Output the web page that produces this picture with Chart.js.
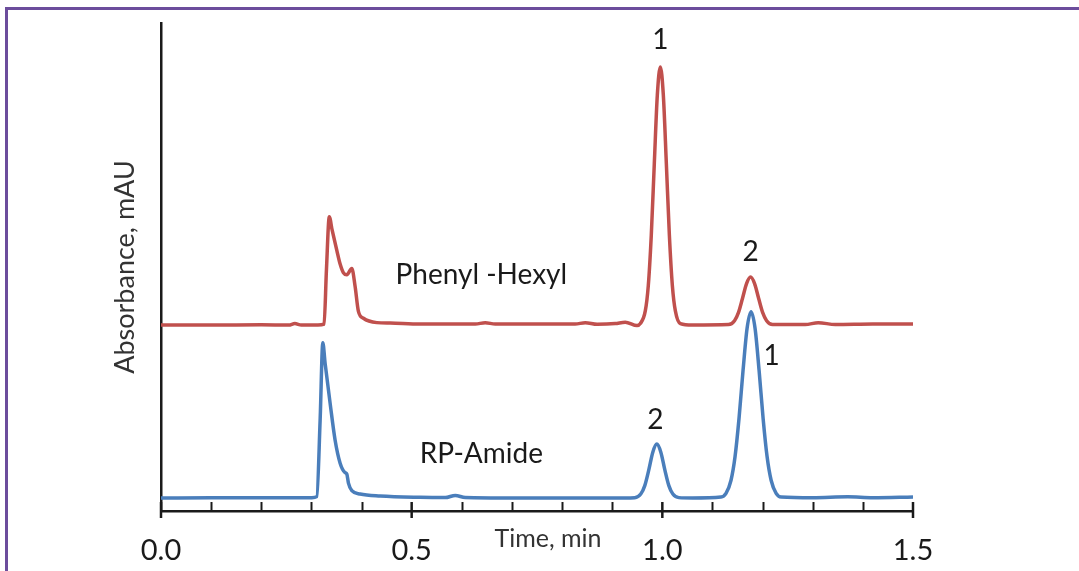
<!DOCTYPE html>
<html lang="en">
<head>
  <meta charset="UTF-8" />
  <title>Chromatogram - Phenyl-Hexyl vs RP-Amide</title>
  <script src="https://cdn.jsdelivr.net/npm/chart.js"></script>
  <style>
    html, body {
      margin: 0;
      padding: 0;
      background: #fff;
      overflow: hidden;
    }
    #wrap {
      position: relative;
      width: 1079px;
      height: 571px;
    }
    #frame {
      position: absolute;
      left: 5px;
      top: 7px;
      width: 1200px;
      height: 700px;
      border-top: 3px solid #6c4d9c;
      border-left: 3px solid #6c4d9c;
      pointer-events: none;
    }
  </style>
</head>
<body>
  <div id="wrap">
    <canvas id="chrom"></canvas>
    <div id="frame"></div>
  </div>

  <script>
    // Phenyl-Hexyl trace (time in min, absorbance in arbitrary mAU)
    const redTime = [0, 0.1, 0.2, 0.255, 0.267, 0.28, 0.313, 0.3253, 0.330, 0.3357, 0.3413, 0.3507,
      0.3573, 0.3639, 0.3706, 0.3806, 0.3872, 0.3938, 0.4038, 0.4305, 0.4571, 0.517, 0.627, 0.6467,
      0.6667, 0.826, 0.8463, 0.870, 0.906, 0.926, 0.9495, 0.956, 0.966, 0.972, 0.978, 0.984, 0.990,
      0.996, 1.002, 1.008, 1.014, 1.020, 1.026, 1.036, 1.06, 1.132, 1.144, 1.152, 1.160, 1.168,
      1.176, 1.184, 1.192, 1.200, 1.208, 1.220, 1.285, 1.311, 1.345, 1.42, 1.5];
    const redAbs = [38.1, 38.1, 38.15, 38.1, 38.4, 38.1, 38.1, 38.3, 49.4, 60.3, 57.6, 53.4,
      50.6, 48.8, 48.4, 49.7, 46.0, 40.9, 39.5, 38.6, 38.5, 38.3, 38.3, 38.6,
      38.3, 38.3, 38.6, 38.25, 38.4, 38.7, 38.0, 38.4, 41.0, 46.2, 56.6, 71.2, 85.2,
      91.0, 85.2, 71.2, 56.6, 46.2, 41.0, 38.4, 38.1, 38.2, 39.0, 40.7, 43.6, 46.6,
      47.95, 46.6, 43.6, 40.7, 39.0, 38.2, 38.2, 38.6, 38.2, 38.3, 38.3];

    // RP-Amide trace
    const blueTime = [0, 0.1, 0.2, 0.3008, 0.3108, 0.3174, 0.3228, 0.3273, 0.3373, 0.3473, 0.3573,
      0.3673, 0.3706, 0.3739, 0.3806, 0.3972, 0.4371, 0.517, 0.567, 0.587, 0.607, 0.7, 0.8, 0.9,
      0.945, 0.957, 0.965, 0.973, 0.981, 0.989, 0.997, 1.005, 1.013, 1.021, 1.033, 1.06, 1.117,
      1.127, 1.137, 1.145, 1.153, 1.161, 1.169, 1.177, 1.185, 1.193, 1.201, 1.209, 1.217, 1.227,
      1.237, 1.3, 1.37, 1.42, 1.5];
    const blueAbs = [2.66, 2.7, 2.7, 2.73, 2.95, 18.6, 34.5, 30.3, 22.1, 14.5, 9.8,
      7.85, 7.6, 5.7, 4.16, 3.48, 3.07, 2.8, 2.75, 3.2, 2.75, 2.66, 2.66, 2.66,
      2.74, 3.47, 5.2, 8.42, 12.06, 13.73, 12.06, 8.42, 5.2, 3.47, 2.74, 2.66, 2.85,
      3.6, 6.3, 11.1, 19.0, 28.8, 37.4, 40.84, 37.4, 28.8, 19.0, 11.1, 6.3, 3.6,
      2.85, 2.7, 2.9, 2.7, 2.87];

    const xTickValues = [0, 0.5, 1.0, 1.5];
    const xTickLabels = ['0.0', '0.5', '1.0', '1.5'];
    const xMinorTicks = [0.1, 0.2, 0.3, 0.4, 0.6, 0.7, 0.8, 0.9, 1.1, 1.2, 1.3, 1.4];

    // peak / trace labels
    const noteText = ['1', '2', 'Phenyl -Hexyl', 'RP-Amide', '2', '1'];
    const noteTime = [0.996, 1.176, 0.639, 0.639, 0.986, 1.218];
    const noteAbs = [96.5, 53.1, 48.4, 11.7, 18.6, 31.8];

    const FONT = 'Lato, "Open Sans", sans-serif';

    function toPoints(xs, ys) {
      return xs.map((x, i) => ({ x, y: ys[i] }));
    }

    const decor = {
      id: 'decor',
      afterDraw(chart) {
        const ctx = chart.ctx;
        const xs = chart.scales.x;
        const ys = chart.scales.y;
        const bottom = chart.chartArea.bottom;

        ctx.save();
        ctx.strokeStyle = '#1a1a1a';
        ctx.lineWidth = 2;
        xMinorTicks.forEach(v => {
          const px = Math.round(xs.getPixelForValue(v)) + 0.5;
          ctx.beginPath();
          ctx.moveTo(px, bottom - 9);
          ctx.lineTo(px, bottom);
          ctx.stroke();
        });
        ctx.lineWidth = 2.5;
        xTickValues.forEach(v => {
          const px = xs.getPixelForValue(v);
          ctx.beginPath();
          ctx.moveTo(px, bottom - 9);
          ctx.lineTo(px, bottom + 7);
          ctx.stroke();
        });

        ctx.fillStyle = '#333';
        ctx.font = '25px ' + FONT;
        ctx.textAlign = 'center';
        ctx.textBaseline = 'middle';
        ctx.fillText('Time, min', 548, 539);

        ctx.fillStyle = '#1a1a1a';
        ctx.font = '28px ' + FONT;
        noteText.forEach((t, i) => {
          ctx.fillText(t, xs.getPixelForValue(noteTime[i]), ys.getPixelForValue(noteAbs[i]));
        });
        ctx.restore();
      }
    };

    new Chart(document.getElementById('chrom'), {
      type: 'line',
      data: {
        datasets: [
          {
            label: 'Phenyl-Hexyl',
            data: toPoints(redTime, redAbs),
            borderColor: '#c0504d',
            borderWidth: 3.5,
            pointRadius: 0,
            cubicInterpolationMode: 'monotone'
          },
          {
            label: 'RP-Amide',
            data: toPoints(blueTime, blueAbs),
            borderColor: '#4a7ebb',
            borderWidth: 3.5,
            pointRadius: 0,
            cubicInterpolationMode: 'monotone'
          }
        ]
      },
      options: {
        responsive: true,
        maintainAspectRatio: false,
        animation: false,
        parsing: false,
        layout: { padding: { left: 105, top: 23, right: 166, bottom: 0 } },
        plugins: {
          legend: { display: false },
          tooltip: { enabled: false }
        },
        scales: {
          x: {
            type: 'linear',
            min: 0,
            max: 1.5,
            afterBuildTicks: scale => {
              scale.ticks = xTickValues.map(v => ({ value: v }));
            },
            afterFit: scale => { scale.height = 60; },
            grid: { display: false, drawTicks: false },
            border: { display: true, color: '#1a1a1a', width: 2.5 },
            ticks: {
              padding: 22,
              maxRotation: 0,
              autoSkip: false,
              color: '#1a1a1a',
              font: { family: FONT, size: 29 },
              callback: (v, i) => xTickLabels[i]
            }
          },
          y: {
            min: 0,
            max: 100,
            afterFit: scale => { scale.width = 56; },
            grid: { display: false, drawTicks: false },
            border: { display: true, color: '#1a1a1a', width: 2.5 },
            ticks: { display: false },
            title: {
              display: true,
              text: 'Absorbance, mAU',
              color: '#333',
              padding: 4,
              font: { family: FONT, size: 27 }
            }
          }
        }
      },
      plugins: [decor]
    });
  </script>
</body>
</html>
